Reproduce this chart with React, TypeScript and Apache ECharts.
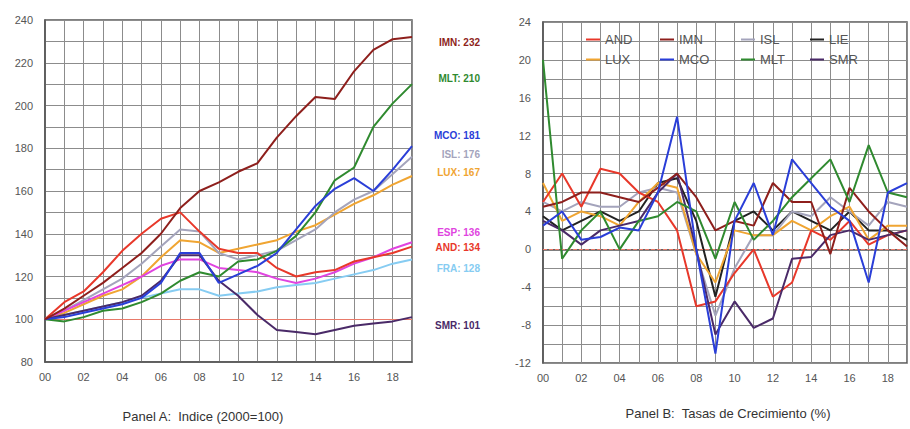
import React, { useEffect, useRef } from "react";
import * as echarts from "echarts";

// Years 2000..2019 as offsets from 2000
const years = [0, 1, 2, 3, 4, 5, 6, 7, 8, 9, 10, 11, 12, 13, 14, 15, 16, 17, 18, 19];

// Panel A: index, 2000 = 100
const idxIMN = [100, 105, 111, 117, 124, 131, 140, 152, 160, 164, 169, 173, 185, 195, 204, 203, 216, 226, 231, 232];
const idxMLT = [100, 99, 101, 104, 105, 108, 112, 118, 122, 120, 127, 128, 132, 139, 150, 165, 171, 190, 201, 210];
const idxMCO = [100, 101, 103, 105, 107, 110, 117, 131, 131, 117, 121, 125, 131, 142, 153, 161, 166, 160, 170, 181];
const idxISL = [100, 104, 109, 114, 119, 126, 134, 142, 141, 131, 128, 130, 132, 137, 142, 150, 156, 160, 168, 176];
const idxLUX = [100, 103, 107, 111, 114, 120, 129, 137, 136, 131, 133, 135, 137, 141, 144, 149, 154, 158, 163, 167];
const idxESP = [100, 104, 108, 112, 116, 120, 125, 128, 128, 124, 123, 122, 119, 117, 119, 122, 126, 129, 133, 136];
const idxAND = [100, 108, 113, 122, 132, 140, 147, 150, 141, 133, 131, 131, 124, 120, 122, 123, 127, 129, 131, 134];
const idxFRA = [100, 102, 104, 106, 108, 110, 112, 114, 114, 111, 112, 113, 115, 116, 117, 119, 121, 123, 126, 128];
const idxSMR = [100, 102, 104, 106, 108, 111, 118, 130, 130, 118, 111, 102, 95, 94, 93, 95, 97, 98, 99, 101];

// Panel B: annual growth rates (%)
const grAND = [5, 8, 4.5, 8.5, 8, 6, 5, 2, -6, -5.5, -2.5, 0, -5, -3.5, 2, 1, 3, 0.5, 1.5, 2];
const grIMN = [4.5, 5, 6, 6, 5.5, 5, 6.5, 8, 5.5, 2, 3, 2.5, 7, 5, 5, -0.5, 6.5, 4, 2, 0.3];
const grISL = [5, 4, 5, 4.5, 4.5, 6, 6.5, 6, -0.5, -7, -2, 1.5, 1.5, 4, 3.5, 5.5, 4, 2.5, 5, 4.5];
const grLIE = [3.5, 2, 3, 4, 3, 4, 7, 7.5, 3, -5, 3, 4, 2, 4, 3, 2, 4, 2, 2, 1];
const grLUX = [7, 3, 4, 3.5, 2.5, 5, 7, 6.5, -0.5, -3.5, 2, 1.5, 1.5, 3, 2, 3.5, 4.5, 1, 2.5, 2.5];
const grMCO = [2.5, 4, 1, 1.3, 2.3, 2, 6, 14, 0, -11, 3, 7, 1.5, 9.5, 7, 4.5, 3, -3.5, 6, 7];
const grMLT = [20, -1, 2, 4, 0, 3, 3.5, 5, 4, -1, 5, 1, 3, 5.5, 7.5, 9.5, 5, 11, 6, 5.5];
const grSMR = [3, 2, 0.5, 2, 2.5, 3, 6, 8, 0, -9, -5.5, -8.3, -7.3, -1, -0.8, 1.5, 2, 1, 1.5, 2];

const colors: Record<string, string> = {
  AND: "#e8382a",
  IMN: "#8e1f1c",
  ISL: "#a4a4bc",
  LIE: "#222222",
  LUX: "#f0a532",
  MCO: "#2a3ed8",
  MLT: "#2f8a2f",
  SMR: "#4a2a68",
  ESP: "#e044e0",
  FRA: "#86ccf2",
};

// vertical nudge of the end labels so they don't collide
const labelNudge: Record<string, number> = {
  IMN: 5, MLT: -6, MCO: -11, ISL: -2, LUX: -4, ESP: -10, AND: 1, FRA: 9, SMR: 8,
};

const indexSeries: [string, number[]][] = [
  ["FRA", idxFRA],
  ["LUX", idxLUX],
  ["ISL", idxISL],
  ["ESP", idxESP],
  ["AND", idxAND],
  ["SMR", idxSMR],
  ["MLT", idxMLT],
  ["MCO", idxMCO],
  ["IMN", idxIMN],
];

const growthSeries: [string, number[]][] = [
  ["LIE", grLIE],
  ["ISL", grISL],
  ["LUX", grLUX],
  ["AND", grAND],
  ["SMR", grSMR],
  ["IMN", grIMN],
  ["MLT", grMLT],
  ["MCO", grMCO],
];

const legendRows = [
  ["AND", "IMN", "ISL", "LIE"],
  ["LUX", "MCO", "MLT", "SMR"],
];
const legendCols = [586, 660, 741, 810];

const pair = (vals: number[]) => years.map((y, i) => [y, vals[i]]);

const axisText = { color: "#555", fontSize: 11, fontFamily: "Liberation Sans, Arial, sans-serif" };
const gridLine = { show: true, lineStyle: { color: "#8c8c8c", width: 1 } };

export default function App() {
  const ref = useRef<HTMLDivElement>(null);

  useEffect(() => {
    if (!ref.current) return;
    const chart = echarts.init(ref.current, undefined, { renderer: "svg" });

    const xAxisBase = (gridIndex: number) => ({
      gridIndex,
      type: "value" as const,
      min: 0,
      max: 19,
      interval: 1,
      axisLine: { show: true, lineStyle: { color: "#555", width: 1.5 } },
      axisTick: { show: false },
      splitLine: gridLine,
      axisLabel: {
        ...axisText,
        margin: 9,
        formatter: (v: number) => (v % 2 === 0 ? String(v).padStart(2, "0") : ""),
      },
    });

    const series: any[] = [];
    indexSeries.forEach(([name, vals], k) => {
      series.push({
        name,
        type: "line",
        xAxisIndex: 0,
        yAxisIndex: 0,
        data: pair(vals),
        showSymbol: false,
        lineStyle: { width: 2, color: colors[name] },
        itemStyle: { color: colors[name] },
        endLabel: {
          show: true,
          distance: 0,
          align: "right",
          offset: [68, labelNudge[name]],
          formatter: (p: any) => `${p.seriesName}: ${p.value[1]}`,
          color: colors[name],
          fontSize: 10,
          fontWeight: "bold",
          fontFamily: "Liberation Sans, Arial, sans-serif",
        },
        markLine:
          k === 0
            ? {
                silent: true,
                symbol: "none",
                label: { show: false },
                lineStyle: { color: "#e87a6a", width: 1, type: "solid" },
                data: [{ yAxis: 100 }],
              }
            : undefined,
        z: 3 + k,
      });
    });
    growthSeries.forEach(([name, vals], k) => {
      series.push({
        name,
        type: "line",
        xAxisIndex: 1,
        yAxisIndex: 1,
        data: pair(vals),
        showSymbol: false,
        lineStyle: { width: 2, color: colors[name] },
        itemStyle: { color: colors[name] },
        markLine:
          k === 0
            ? {
                silent: true,
                symbol: "none",
                label: { show: false },
                lineStyle: { color: "#e87a6a", width: 1, type: "dashed" },
                data: [{ yAxis: 0 }],
              }
            : undefined,
        z: 3 + k,
      });
    });

    const legends: any[] = [];
    legendRows.forEach((row, r) => {
      row.forEach((name, c) => {
        legends.push({
          data: [name],
          left: legendCols[c],
          top: 33 + r * 20,
          icon: "rect",
          itemWidth: 14,
          itemHeight: 2,
          padding: 0,
          selectedMode: false,
          textStyle: { color: "#555", fontSize: 13, fontFamily: "Liberation Sans, Arial, sans-serif" },
        });
      });
    });

    chart.setOption({
      animation: false,
      backgroundColor: "#ffffff",
      grid: [
        { left: 45, top: 20, width: 367, height: 342, show: true, borderColor: "#555", borderWidth: 1.5, backgroundColor: "transparent" },
        { left: 543, top: 22, width: 365, height: 341, show: true, borderColor: "#555", borderWidth: 1.5, backgroundColor: "transparent" },
      ],
      xAxis: [xAxisBase(0), xAxisBase(1)],
      yAxis: [
        {
          gridIndex: 0,
          type: "value",
          min: 80,
          max: 240,
          interval: 10,
          axisLine: { show: true, lineStyle: { color: "#555", width: 1.5 } },
          axisTick: { show: false },
          splitLine: gridLine,
          axisLabel: { ...axisText, margin: 12, formatter: (v: number) => (v % 20 === 0 ? String(v) : "") },
        },
        {
          gridIndex: 1,
          type: "value",
          min: -12,
          max: 24,
          interval: 2,
          axisLine: { show: true, lineStyle: { color: "#555", width: 1.5 } },
          axisTick: { show: false },
          splitLine: gridLine,
          axisLabel: { ...axisText, margin: 12, formatter: (v: number) => (v % 4 === 0 ? String(v) : "") },
        },
      ],
      legend: legends,
      graphic: [
        {
          type: "text",
          x: 203,
          y: 416,
          style: {
            text: "Panel A:  Indice (2000=100)",
            fill: "#333",
            fontSize: 13,
            fontFamily: "Liberation Sans, Arial, sans-serif",
            textAlign: "center",
            textVerticalAlign: "middle",
          },
        },
        {
          type: "text",
          x: 728,
          y: 413,
          style: {
            text: "Panel B:  Tasas de Crecimiento (%)",
            fill: "#333",
            fontSize: 13,
            fontFamily: "Liberation Sans, Arial, sans-serif",
            textAlign: "center",
            textVerticalAlign: "middle",
          },
        },
      ],
      series,
    });

    return () => chart.dispose();
  }, []);

  return (
    <div
      ref={ref}
      style={{ position: "fixed", left: 0, top: 0, width: 910, height: 429 }}
    />
  );
}
